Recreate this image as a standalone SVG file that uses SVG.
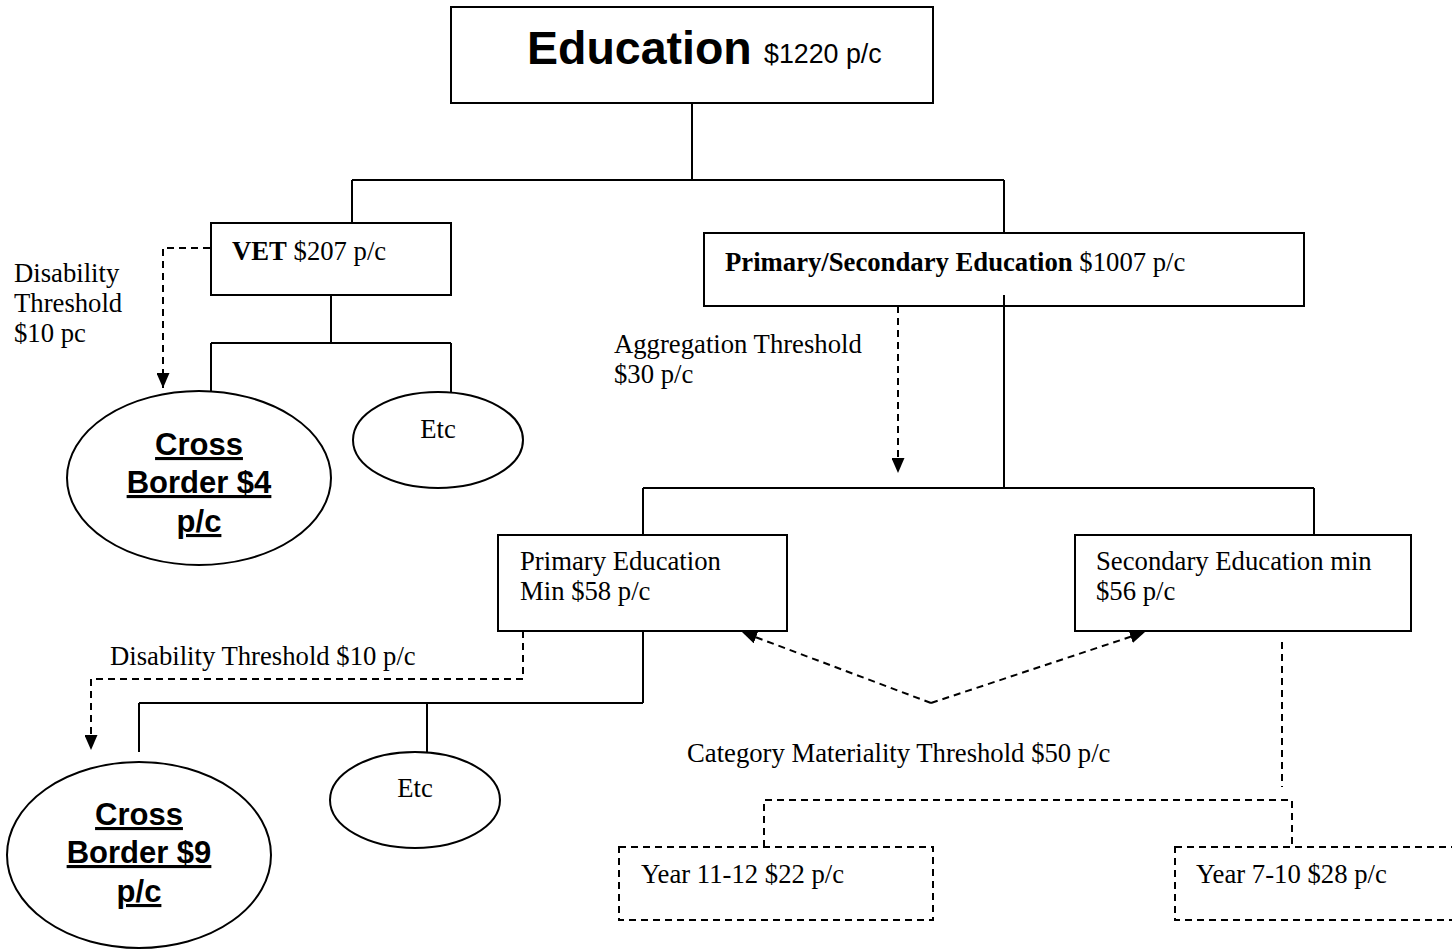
<svg xmlns="http://www.w3.org/2000/svg" width="1452" height="952" viewBox="0 0 1452 952">
<style>
.box{fill:#fff;stroke:#000;stroke-width:2}
.dbox{fill:none;stroke:#000;stroke-width:2;stroke-dasharray:7 5}
.ln{fill:none;stroke:#000;stroke-width:2}
.dl{fill:none;stroke:#000;stroke-width:2;stroke-dasharray:7 5}
.t{font-family:"Liberation Serif","Times New Roman",serif;font-size:26.7px;fill:#000}
.b{font-weight:bold}
.cb{font-family:"Liberation Sans",Arial,sans-serif;font-size:31px;font-weight:bold;text-decoration:underline;text-anchor:middle;fill:#000}
.etc{text-anchor:middle}
</style>
<defs>
<marker id="ah" markerUnits="userSpaceOnUse" markerWidth="15" markerHeight="13" refX="15" refY="6.5" orient="auto">
<path d="M0,0 L15,6.5 L0,13 z" fill="#000" stroke="none"/>
</marker>
</defs>
<g id="connectors">
<path class="ln" d="M692 103 V180 M352 180 H1004 M352 180 V223 M1004 180 V233"/>
<path class="ln" d="M331 295 V343 M211 343 H451 M211 343 V391 M451 343 V393"/>
<path class="ln" d="M1004 295 V488 M643 488 H1314 M643 488 V535 M1314 488 V535"/>
<path class="ln" d="M643 631 V703 M139 703 H643 M139 703 V752 M427 703 V752"/>
<path class="dl" d="M210 248 H163 V388" marker-end="url(#ah)"/>
<path class="dl" d="M898 306 V473" marker-end="url(#ah)"/>
<path class="dl" d="M523 631 V679 H91 V750" marker-end="url(#ah)"/>
<path class="dl" d="M931 703 L742 632" marker-end="url(#ah)"/>
<path class="dl" d="M931 703 L1145 632" marker-end="url(#ah)"/>
<path class="dl" d="M1282 642 V787"/>
<path class="dl" d="M764 847 V800 H1292 V847"/>
</g>
<g id="education">
<rect class="box" x="451" y="7" width="482" height="96"/>
<text x="527" y="64" font-family="Liberation Sans,Arial,sans-serif" font-size="46.5" font-weight="bold">Education</text>
<text x="764" y="63" font-family="Liberation Sans,Arial,sans-serif" font-size="26.8">$1220 p/c</text>
</g>
<g id="vet">
<rect class="box" x="211" y="223" width="240" height="72"/>
<text class="t" x="232" y="260"><tspan class="b">VET</tspan> $207 p/c</text>
</g>
<g id="vet-disability-label">
<text class="t" x="14" y="282">Disability</text>
<text class="t" x="14" y="312">Threshold</text>
<text class="t" x="14" y="342">$10 pc</text>
</g>
<g id="cross-border-4">
<ellipse class="box" cx="199" cy="478" rx="132" ry="87"/>
<text class="cb" x="199" y="455">Cross</text>
<text class="cb" x="199" y="493">Border $4</text>
<text class="cb" x="199" y="532">p/c</text>
</g>
<g id="etc-1">
<ellipse class="box" cx="438" cy="440" rx="85" ry="48"/>
<text class="t etc" x="438" y="438">Etc</text>
</g>
<g id="primary-secondary">
<rect class="box" x="704" y="233" width="600" height="73"/>
<text class="t" x="725" y="271"><tspan class="b">Primary/Secondary Education</tspan> $1007 p/c</text>
</g>
<path class="ln" d="M1004 295 V306"/>
<g id="aggregation-label">
<text class="t" x="614" y="353">Aggregation Threshold</text>
<text class="t" x="614" y="383">$30 p/c</text>
</g>
<g id="primary">
<rect class="box" x="498" y="535" width="289" height="96"/>
<text class="t" x="520" y="570">Primary Education</text>
<text class="t" x="520" y="600">Min $58 p/c</text>
</g>
<g id="secondary">
<rect class="box" x="1075" y="535" width="336" height="96"/>
<text class="t" x="1096" y="570">Secondary Education min</text>
<text class="t" x="1096" y="600">$56 p/c</text>
</g>
<g id="primary-disability-label">
<text class="t" x="110" y="665">Disability Threshold $10 p/c</text>
</g>
<g id="cross-border-9">
<ellipse class="box" cx="139" cy="855" rx="132" ry="93"/>
<text class="cb" x="139" y="825">Cross</text>
<text class="cb" x="139" y="863">Border $9</text>
<text class="cb" x="139" y="902">p/c</text>
</g>
<g id="etc-2">
<ellipse class="box" cx="415" cy="800" rx="85" ry="48"/>
<text class="t etc" x="415" y="797">Etc</text>
</g>
<g id="category-label">
<text class="t" x="687" y="762">Category Materiality Threshold $50 p/c</text>
</g>
<g id="year-11-12">
<rect class="dbox" x="619" y="847" width="314" height="73"/>
<text class="t" x="641" y="883">Year 11-12 $22 p/c</text>
</g>
<g id="year-7-10">
<rect class="dbox" x="1175" y="847" width="290" height="73"/>
<text class="t" x="1196" y="883">Year 7-10 $28 p/c</text>
</g>
</svg>
